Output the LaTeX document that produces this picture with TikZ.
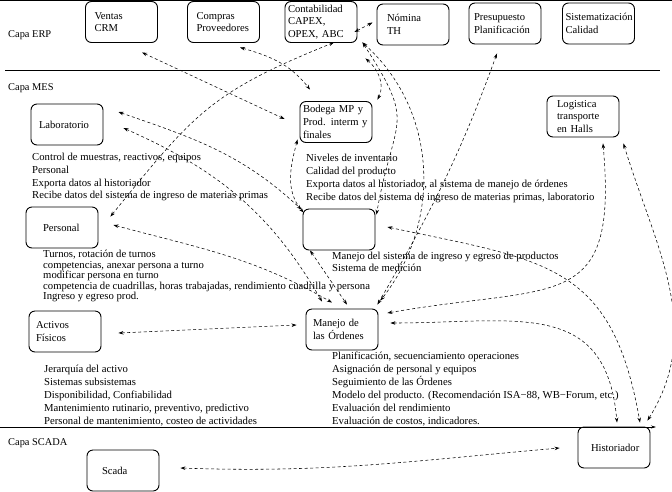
\documentclass[tikz,border=0pt]{standalone}
\usepackage{fontspec}
\setmainfont{Liberation Serif}
\usetikzlibrary{arrows.meta}
\usetikzlibrary{calc}

\begin{document}
\begin{tikzpicture}[x=1pt,y=-1pt,
    caja/.style 2 args={draw,rounded corners=6pt,line width=0.9pt,align=left,
      minimum height=41pt,inner ysep=2pt,inner xsep=#1,text width=#2,
      font=\fontsize{10.6}{12.8}\selectfont},
    lista/.style={anchor=north west,inner sep=0pt,align=left,
      font=\fontsize{10.7}{#1}\selectfont},
    capa/.style={anchor=west,inner sep=0pt,font=\fontsize{10.4}{12}\selectfont},
    flecha/.style={dash pattern=on 3pt off 2.5pt,line width=0.55pt,
      {Stealth[length=5pt,width=3.5pt]}-{Stealth[length=5pt,width=3.5pt]}}]
  \useasboundingbox (0,0) rectangle (672,491);

  % capas
  \draw[line width=0.8pt] (0,0.4) -- (672,0.4);
  \draw[line width=0.6pt] (5,70) -- (660,70);
  \draw[line width=0.6pt,-{Stealth[length=5pt,width=3pt]}] (0,427) -- (656,427);
  \node[capa] (erp) at (8,35) {Capa ERP};
  \node[capa] (mes) at (8,88) {Capa MES};
  \node[capa] (scadacapa) at (8,443) {Capa SCADA};

  % ERP
  \node[caja={9pt}{54pt}] (ventas) at (121.5,22) {Ventas\\CRM};
  \node[caja={9pt}{54pt}] (compras) at (223.5,22) {Compras\\Proveedores};
  \node[caja={3pt}{66pt}] (contab) at (321,22) {Contabilidad\\CAPEX,\\OPEX, ABC};
  \node[caja={10pt}{52pt}] (nomina) at (413,24.5) {Nómina\\TH};
  \node[caja={5pt}{62pt}] (presup) at (505,23.5) {Presupuesto\\Planificación};
  \node[caja={3pt}{66pt}] (sistem) at (598.5,23.5) {Sistematización\\Calidad};

  % MES
  \node[caja={8pt}{56pt}] (lab) at (67,124.5) {Laboratorio};
  \node[caja={3pt}{66pt}] (bodega) at (336,122) {Bodega MP y\\Prod. interm y\\finales};
  \node[caja={10pt}{52pt}] (logis) at (583,116.5) {Logistica\\transporte\\en Halls};
  \node[caja={17pt}{38pt}] (personal) at (62,227.5) {Personal};
  \node[caja={8pt}{56pt}] (vacio) at (339,229.5) {};
  \node[caja={7pt}{58pt}] (activos) at (65,331.5) {Activos\\Físicos};
  \node[caja={7pt}{58pt}] (manejo) at (342,329.5) {Manejo de\\las Órdenes};

  % SCADA
  \node[caja={15pt}{42pt}] (scada) at (123,470.5) {Scada};
  \node[caja={13pt}{46pt}] (histor) at (614,447.5) {Historiador};

  % listas
  \node[lista=12.7pt] (labtxt) at (32,153) {Control de muestras, reactivos, equipos\\Personal\\Exporta datos al historiador\\Recibe datos del sistema de ingreso de materias primas};
  \node[lista=12.9pt] (bodtxt) at (306,154) {Niveles de inventario\\Calidad del producto\\Exporta datos al historiador, al sistema de manejo de órdenes\\Recibe datos del sistema de ingreso de materias primas, laboratorio};
  \node[lista=10.5pt] (pertxt) at (43,250) {Turnos, rotación de turnos\\competencias, anexar persona a turno\\modificar persona en turno\\competencia de cuadrillas, horas trabajadas, rendimiento cuadrilla y persona\\Ingreso y egreso prod.};
  \node[lista=12pt] (vactxt) at (332,252) {Manejo del sistema de ingreso y egreso de productos\\Sistema de medición};
  \node[lista=13pt] (acttxt) at (44,365) {Jerarquía del activo\\Sistemas subsistemas\\Disponibilidad, Confiabilidad\\Mantenimiento rutinario, preventivo, predictivo\\Personal de mantenimiento, costeo de actividades};
  \node[lista=13pt] (mantxt) at (332,352) {Planificación, secuenciamiento operaciones\\Asignación de personal y equipos\\Seguimiento de las Órdenes\\Modelo del producto. (Recomendación ISA−88, WB−Forum, etc.)\\Evaluación del rendimiento\\Evaluación de costos, indicadores.};

  % conexiones
  \draw[flecha] ($(ventas.south)+(20.5,9.5)$) -- ($(bodega.west)+(-15,-3)$);
  \draw[flecha] ($(compras.south)+(16.5,4.5)$) to[out=-16,in=128] ($(bodega.north)+(-26,-11.5)$);
  \draw[flecha] ($(personal.north east)+(12,10)$) to[out=51,in=-158,looseness=1.2] ($(contab.south)+(13,-0.5)$);
  \draw[flecha] ($(contab.east)+(-3,10)$) -- ($(nomina.west)+(-4,-2)$);
  \draw[flecha] ($(contab.south east)+(8,15.5)$) to[out=-40,in=63] ($(bodega.north east)+(5,-1.5)$);
  \draw[flecha] ($(contab.south east)+(5,-0.5)$) to[out=-57,in=80,looseness=1.5] ($(vacio.north east)+(1,6)$);
  \draw[flecha] ($(contab.south east)+(5,-0.5)$) to[out=-42,in=52] ($(manejo.north east)+(2,-8)$);
  \draw[flecha] ($(bodega.south west)+(-2,-3.5)$) to[out=-105,in=130] ($(vacio.north west)+(1,4)$);
  \draw[flecha] ($(lab.east)+(15,-12.5)$) to[out=-19,in=137] ($(vacio.north west)+(-1,1)$);
  \draw[flecha] ($(lab.east)+(20,3.5)$) to[out=-24,in=120] ($(manejo.north)+(-20,-7)$);
  \draw[flecha] ($(personal.east)+(15,-2.5)$) to[out=-15,in=150] ($(manejo.north)+(-10,-6)$);
  \draw[flecha] ($(vacio.south)+(-29,0)$) -- ($(manejo.north)+(5,-4)$);
  \draw[flecha] ($(presup.south)+(-8,9)$) to[out=-110,in=60] ($(manejo.north east)+(-1,-4)$);
  \draw[flecha] ($(logis.south)+(20,6)$) to[out=-85,in=10,looseness=1.6] ($(manejo.east)+(9,-16.5)$);
  \draw[flecha] ($(logis.south east)+(4,6)$) to[out=-73,in=58] ($(histor.north east)+(-3,-6)$);
  \draw[flecha] ($(vacio.east)+(12,-2.5)$) to[out=-12,in=100,looseness=1.3] ($(histor.north)+(26,-4)$);
  \draw[flecha] ($(manejo.east)+(12,-6.5)$) to[out=0,in=95,looseness=1.3] ($(histor.north)+(3,-4)$);
  \draw[flecha] ($(activos.east)+(17,1.5)$) -- ($(manejo.west)+(-9,-4.5)$);
  \draw[flecha] ($(scada.east)+(21,-2.5)$) to[out=-2,in=185] ($(histor.west)+(-18,0.5)$);
\end{tikzpicture}
\end{document}
